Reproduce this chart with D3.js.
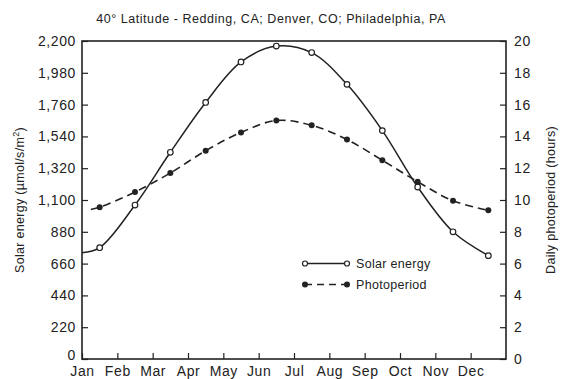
<!DOCTYPE html>
<html><head><meta charset="utf-8">
<script src="https://cdn.jsdelivr.net/npm/d3@7"></script>
<style>
body{margin:0;background:#fff;}
text{font-family:"Liberation Sans",Arial,Helvetica,sans-serif;fill:#222;}
</style></head>
<body><svg id="c" width="563" height="379"></svg>
<script>
const months = ["Jan","Feb","Mar","Apr","May","Jun","Jul","Aug","Sep","Oct","Nov","Dec"];
const solarEnergy = [770, 1065, 1430, 1775, 2055, 2165, 2120, 1900, 1580, 1190, 880, 715];
const photoperiod = [9.55, 10.5, 11.7, 13.1, 14.25, 15.0, 14.7, 13.8, 12.5, 11.15, 9.95, 9.35];
// where each drawn line begins, in months / values
const solarLineStart = {m: 0, v: 735};
const photoLineStart = {m: 0.25, v: 9.4};
const leftTicks = [0,220,440,660,880,1100,1320,1540,1760,1980,2200];
const rightTicks = [0,2,4,6,8,10,12,14,16,18,20];
const title = "40\u00b0 Latitude - Redding, CA; Denver, CO; Philadelphia, PA";

const svg = d3.select("#c");
const L = 82, R = 506, T = 41, B = 359;
const x = d3.scaleLinear().domain([0,12]).range([L,R]);
const yL = d3.scaleLinear().domain([0,2200]).range([B,T]);
const yR = d3.scaleLinear().domain([0,20]).range([B,T]);
const ink = "#222";

svg.append("text").attr("x",271).attr("y",23).attr("text-anchor","middle")
  .style("font-size","12.5px").style("letter-spacing","0.55px").text(title);

// frame
svg.append("rect").attr("x",L).attr("y",T).attr("width",R-L).attr("height",B-T)
  .attr("fill","none").attr("stroke",ink).attr("stroke-width",1.6);

// left axis
const gl = svg.append("g").attr("transform",`translate(${L},0)`)
  .call(d3.axisLeft(yL).tickValues(leftTicks).tickSize(-6).tickPadding(6).tickFormat(d3.format(",")));
// right axis
const gr = svg.append("g").attr("transform",`translate(${R},0)`)
  .call(d3.axisRight(yR).tickValues(rightTicks).tickSize(-6).tickPadding(8));
// bottom axis
const gb = svg.append("g").attr("transform",`translate(0,${B})`)
  .call(d3.axisBottom(x).tickValues(d3.range(12)).tickSize(-6).tickPadding(7).tickFormat(i=>months[i]));
[gl,gr,gb].forEach(g=>{
  g.select(".domain").remove();
  g.selectAll("line").attr("stroke",ink).attr("stroke-width",1.2);
  g.selectAll("text").style("font-size","14px").style("letter-spacing","0.6px")
    .style("font-family",'"Liberation Sans",Arial,sans-serif').attr("fill",ink);
});
gl.selectAll(".tick").filter(d=>d===0).select("text").attr("dy","0em");

// axis titles
svg.append("text").attr("transform","translate(24,200) rotate(-90)").attr("text-anchor","middle")
  .style("font-size","12.5px").style("letter-spacing","0.3px")
  .html('Solar energy (\u00b5mol/s/m<tspan dy="-5" font-size="9">2</tspan><tspan dy="5">)</tspan>');
svg.append("text").attr("transform","translate(555,200) rotate(-90)").attr("text-anchor","middle")
  .style("font-size","12.5px").style("letter-spacing","0.3px").text("Daily photoperiod (hours)");

// lines
const solarPts = [[solarLineStart.m, solarLineStart.v], ...solarEnergy.map((v,i)=>[i+0.5,v])];
const photoPts = [[photoLineStart.m, photoLineStart.v], ...photoperiod.map((v,i)=>[i+0.5,v])];
const lineS = d3.line().x(d=>x(d[0])).y(d=>yL(d[1])).curve(d3.curveCatmullRom.alpha(0.5));
const lineP = d3.line().x(d=>x(d[0])).y(d=>yR(d[1])).curve(d3.curveCatmullRom.alpha(0.5));
svg.append("path").attr("d",lineS(solarPts)).attr("fill","none").attr("stroke",ink).attr("stroke-width",1.5);
svg.append("path").attr("d",lineP(photoPts)).attr("fill","none").attr("stroke",ink).attr("stroke-width",1.6)
  .attr("stroke-dasharray","8,5");
svg.selectAll(".ms").data(solarEnergy).join("circle").attr("cx",(d,i)=>x(i+0.5)).attr("cy",d=>yL(d))
  .attr("r",2.8).attr("fill","#fff").attr("stroke",ink).attr("stroke-width",1.2);
svg.selectAll(".mp").data(photoperiod).join("circle").attr("cx",(d,i)=>x(i+0.5)).attr("cy",d=>yR(d))
  .attr("r",3).attr("fill",ink);

// legend
const lg = svg.append("g");
lg.append("line").attr("x1",305).attr("x2",347).attr("y1",263.5).attr("y2",263.5).attr("stroke",ink).attr("stroke-width",1.5);
[305,347].forEach(cx=>lg.append("circle").attr("cx",cx).attr("cy",263.5).attr("r",2.5).attr("fill","#fff").attr("stroke",ink).attr("stroke-width",1.2));
lg.append("text").attr("x",356).attr("y",268).style("font-size","12.5px").style("letter-spacing","0.3px").text("Solar energy");
lg.append("line").attr("x1",305).attr("x2",347).attr("y1",284.5).attr("y2",284.5).attr("stroke",ink).attr("stroke-width",1.6).attr("stroke-dasharray","7,5");
[305,347].forEach(cx=>lg.append("circle").attr("cx",cx).attr("cy",284.5).attr("r",3).attr("fill",ink));
lg.append("text").attr("x",356).attr("y",289).style("font-size","12.5px").style("letter-spacing","0.3px").text("Photoperiod");
</script></body></html>
